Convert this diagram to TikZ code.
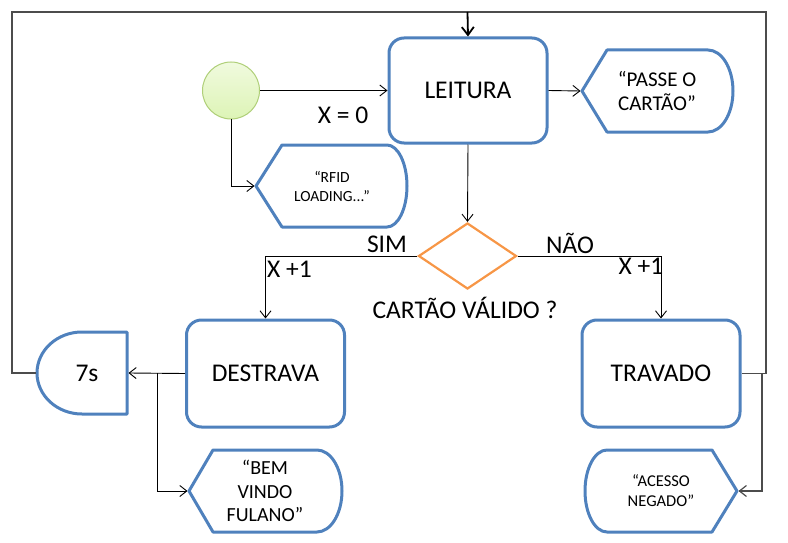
\documentclass[tikz,border=0pt]{standalone}
\usepackage{fontspec}
\setmainfont{Carlito}
\usetikzlibrary{arrows.meta,shapes.geometric}
\definecolor{bl}{HTML}{4F81BD}
\definecolor{orng}{HTML}{F79646}
\definecolor{grn}{HTML}{AFCF78}
\definecolor{grntop}{HTML}{DDF4B6}
\definecolor{grnbot}{HTML}{F0FADE}
\tikzset{
  bigf/.style={font=\fontsize{25.5}{30}\selectfont},
  proc/.style={draw=bl, line width=3pt, rounded corners=15pt, minimum width=158pt, minimum height=105pt, inner sep=0pt, bigf},
  disp/.style={draw=bl, line width=3pt, line join=round},
  conn/.style={line width=0.9pt, -{Straight Barb[length=7pt,width=11pt]}},
  loopl/.style={line width=1.2pt, draw=black!70},
  lbl/.style={inner sep=0pt, bigf},
  txt/.style={align=center, inner sep=0pt}
}
\begin{document}
\begin{tikzpicture}[x=1pt,y=-1pt]
\useasboundingbox (0,0) rectangle (788,543);

% display shapes
\draw[disp] (582,91) -- (607,50) -- (708,50) .. controls (721.8,50) and (733,68.4) .. (733,91) .. controls (733,113.6) and (721.8,132) .. (708,132) -- (607,132) -- cycle;
\draw[disp] (256,186) -- (282,145) -- (387,145) .. controls (398,145) and (407,163.4) .. (407,186) .. controls (407,208.6) and (398,227) .. (387,227) -- (282,227) -- cycle;
\draw[disp] (189,491) -- (213,450) -- (317,450) .. controls (330.8,450) and (342,468.4) .. (342,491) .. controls (342,513.6) and (330.8,532) .. (317,532) -- (213,532) -- cycle;
\draw[disp] (737,491) -- (712,450) -- (607,450) .. controls (594.8,450) and (585,468.4) .. (585,491) .. controls (585,513.6) and (594.8,532) .. (607,532) -- (712,532) -- cycle;
\draw[disp] (127,332) -- (82,332) .. controls (57.1,332) and (37,350.4) .. (37,373) .. controls (37,395.6) and (57.1,414) .. (82,414) -- (127,414) -- cycle;

% tip coordinates
\coordinate (passtip) at (580.5,91);
\coordinate (rfidtip) at (254.5,186);
\coordinate (bemtip) at (187.5,491);
\coordinate (negtip) at (738.5,491);
\coordinate (delaye) at (128.5,373);
\coordinate (delayw) at (35.5,373);
\coordinate (tl) at (12,12);
\coordinate (tr) at (766,12);
\coordinate (topin) at (467.5,12);
\coordinate (b1) at (157,373);
\coordinate (b2) at (762,373.5);

% text in display shapes
\node[txt, font=\fontsize{21}{23.3}\selectfont] (pass) at (657,91) {“PASSE O\\CARTÃO”};
\node[txt, font=\fontsize{15.5}{19}\selectfont] (rfid) at (332,186) {“RFID\\LOADING...”};
\node[txt, font=\fontsize{20}{23.3}\selectfont] (bem) at (265,491) {“BEM\\VINDO\\FULANO”};
\node[txt, font=\fontsize{16.5}{20}\selectfont] (neg) at (661,491) {“ACESSO\\NEGADO”};
\node[lbl] (delay) at (87,373) {7s};

% process nodes
\node[proc] (leit) at (468,90.5) {LEITURA};
\node[proc, minimum height=107pt] (dest) at (265.5,373.5) {DESTRAVA};
\node[proc, minimum height=107pt] (trav) at (661,373.5) {TRAVADO};

% start circle (y axis is flipped, so top/bottom colours are swapped)
\node[circle, draw=grn, line width=1pt, top color=grnbot, bottom color=grntop, minimum size=57pt, inner sep=0pt] (start) at (231,90.5) {};

% decision
\node[diamond, draw=orng, line width=2.2pt, minimum width=98pt, minimum height=66pt, inner sep=0pt] (dec) at (467.5,256) {};

% labels
\node[lbl] (x0) at (343,115) {X = 0};
\node[lbl] (sim) at (387,244) {SIM};
\node[lbl] (nao) at (570,243) {NÃO};
\node[lbl] (xl) at (289.5,269) {X +1};
\node[lbl] (xr) at (641,266) {X +1};
\node[lbl] (q) at (465,308) {CARTÃO VÁLIDO ?};

% loop
\draw[loopl] (delayw) -| (tl) -- (tr) |- (trav.east);
\draw[loopl] (b2) |- (negtip);
\draw[loopl, -{Straight Barb[length=7pt,width=11pt]}] (b2 |- negtip) -- (negtip);
\draw[line width=1.8pt, -{Straight Barb[length=8pt,width=12pt]}] (topin) -- (leit.north);

% connectors
\draw[conn] (start.east) -- (leit.west);
\draw[conn] (start.south) |- (rfidtip);
\draw[conn] (leit.east) -- (passtip);
\draw[conn] (leit.south) -- (dec.north);
\draw[conn] (dec.west) -| (dest.north);
\draw[conn] (dec.east) -| (trav.north);
\draw[conn] (dest.west) -- (delaye);
\draw[conn] (b1) |- (bemtip);
\end{tikzpicture}
\end{document}
